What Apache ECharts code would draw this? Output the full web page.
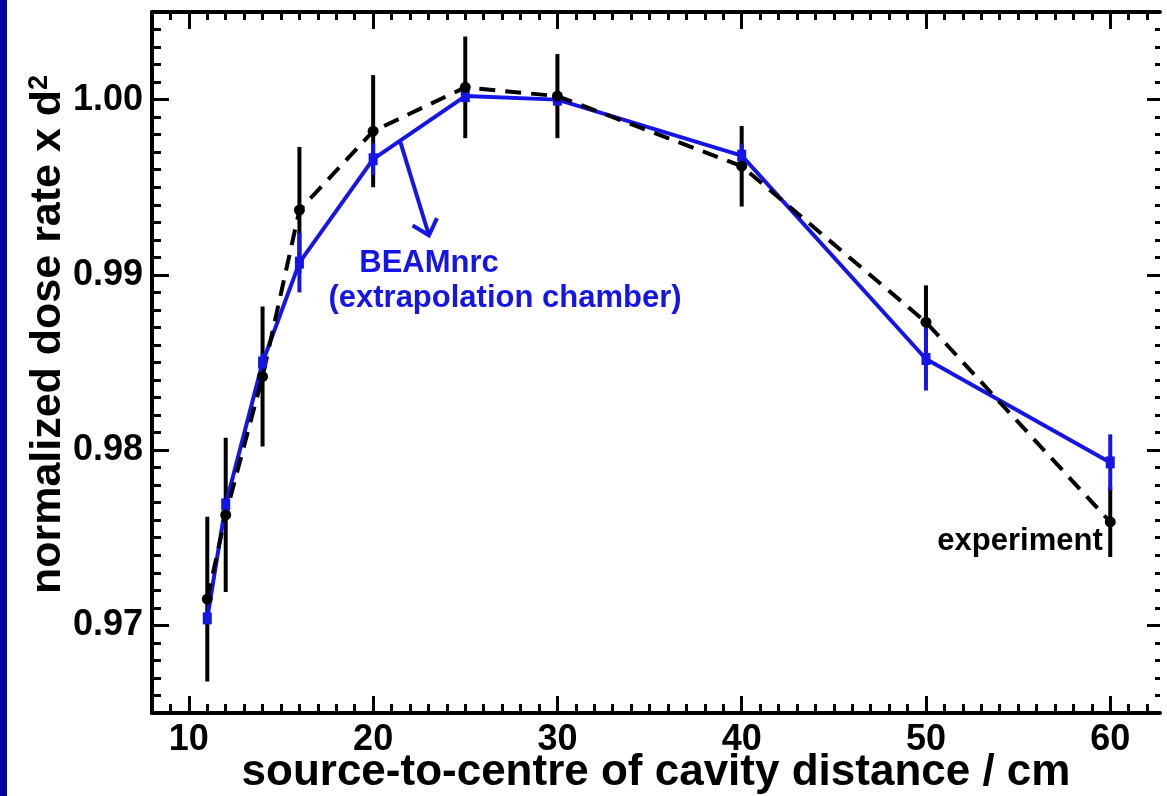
<!DOCTYPE html>
<html>
<head>
<meta charset="utf-8">
<script src="https://cdn.jsdelivr.net/npm/echarts@6/dist/echarts.min.js"></script>
<style>
  html, body { margin: 0; padding: 0; background: #fff; }
  #main { width: 1167px; height: 796px; }
</style>
</head>
<body>
<div id="main"></div>
<script>
// distances (cm) and normalized dose rate x d^2
const distances = [11, 12, 14, 16, 20, 25, 30, 40, 50, 60];
const experiment = [0.9715, 0.9763, 0.9842, 0.9937, 0.9982, 1.0007, 1.0002, 0.9962, 0.9873, 0.9759];
const experimentErr = [0.0047, 0.0044, 0.0040, 0.0036, 0.0032, 0.0029, 0.0024, 0.0023, 0.0021, 0.0020];
const beamnrc = [0.9704, 0.9769, 0.9850, 0.9907, 0.9966, 1.0002, 1.0000, 0.9968, 0.9852, 0.9793];
const beamnrcErr = [0.0003, 0.0003, 0.0005, 0.0017, 0.0009, 0.0003, 0.0003, 0.0007, 0.0018, 0.0016];

const xTickLabels = [10, 20, 30, 40, 50, 60];
const yTickLabels = [0.97, 0.98, 0.99, 1.00];

// annotation arrow (data coords) from the BEAMnrc line down to its label
const arrowFrom = [21.45, 0.99767];
const arrowTo = [23.03, 0.99226];

const X_MIN = 8, X_MAX = 62.7;
const Y_MIN = 0.965, Y_MAX = 1.005;

const FONT = '"Liberation Sans", Arial, Helvetica, sans-serif';
const BLUE = '#1515e8';

const xMinor = [];
for (let v = 8; v <= 62; v++) xMinor.push(v);
const yMinor = [];
for (let i = 965; i <= 1005; i++) yMinor.push(i / 1000);

function xAxisDef(pos, ticks, len, main) {
  return {
    type: 'value', position: pos, min: X_MIN, max: X_MAX,
    splitLine: { show: false },
    axisLine: { show: main, onZero: false, lineStyle: { color: '#000', width: 4 } },
    axisTick: { show: true, inside: true, length: len, customValues: ticks, lineStyle: { color: '#000', width: 3 } },
    axisLabel: { show: false }
  };
}
function yAxisDef(pos, ticks, len, showLine) {
  return {
    type: 'value', position: pos, min: Y_MIN, max: Y_MAX,
    splitLine: { show: false },
    axisLine: { show: showLine, onZero: false, lineStyle: { color: '#000', width: 4 } },
    axisTick: { show: true, inside: true, length: len, customValues: ticks, lineStyle: { color: '#000', width: 3 } },
    axisLabel: { show: false }
  };
}

const xBottom = xAxisDef('bottom', xTickLabels, 17, true);
xBottom.axisLabel = {
  show: true, customValues: xTickLabels, margin: 9,
  color: '#000', fontFamily: FONT, fontWeight: 'bold', fontSize: 36
};
xBottom.name = 'source-to-centre of cavity distance / cm';
xBottom.nameLocation = 'middle';
xBottom.nameGap = 38;
xBottom.nameMoveOverlap = false;
xBottom.nameTextStyle = { color: '#000', fontFamily: FONT, fontWeight: 'bold', fontSize: 44 };

const yLeft = yAxisDef('left', yTickLabels, 17, true);
yLeft.axisLabel = {
  show: true, customValues: yTickLabels, margin: 9,
  color: '#000', fontFamily: FONT, fontWeight: 'bold', fontSize: 36,
  formatter: v => v.toFixed(2)
};
yLeft.name = 'normalized dose rate x d{sup|2}';
yLeft.nameLocation = 'middle';
yLeft.nameGap = 81;
yLeft.nameMoveOverlap = false;
yLeft.nameTextStyle = {
  color: '#000', fontFamily: FONT, fontWeight: 'bold', fontSize: 43,
  padding: [0, 0, 0, 56],
  rich: { sup: { fontFamily: FONT, fontWeight: 'bold', fontSize: 27, color: '#000', verticalAlign: 'bottom', padding: [0, 0, 18, 0] } }
};

function errorBars(values, errs, color) {
  return {
    type: 'custom', silent: true,
    renderItem: (params, api) => {
      const p1 = api.coord([api.value(0), api.value(1)]);
      const p2 = api.coord([api.value(0), api.value(2)]);
      return {
        type: 'line',
        shape: { x1: p1[0], y1: p1[1], x2: p2[0], y2: p2[1] },
        style: { stroke: color, lineWidth: 4 }
      };
    },
    encode: { x: 0, y: [1, 2] },
    data: distances.map((d, i) => [d, values[i] - errs[i], values[i] + errs[i]])
  };
}

const chart = echarts.init(document.getElementById('main'));
chart.setOption({
  animation: false,
  backgroundColor: '#fff',
  grid: { left: 152, right: 7, top: 12, bottom: 83, outerBoundsMode: 'none', containLabel: false },
  xAxis: [
    xBottom,
    xAxisDef('bottom', xMinor, 9, false),
    xAxisDef('top', xTickLabels, 17, true),
    xAxisDef('top', xMinor, 8, false)
  ],
  yAxis: [
    yLeft,
    yAxisDef('left', yMinor, 9, false),
    yAxisDef('right', yTickLabels, 13, false),
    yAxisDef('right', yMinor, 5, false)
  ],
  graphic: [
    { type: 'rect', left: 0, top: 0, shape: { width: 7, height: 796 }, style: { fill: '#0505a5' } },
    { type: 'text', x: 429, y: 263, style: { text: 'BEAMnrc', fill: BLUE, font: 'bold 31px ' + FONT, align: 'center', verticalAlign: 'middle', textAlign: 'center', textVerticalAlign: 'middle' } },
    { type: 'text', x: 505, y: 298, style: { text: '(extrapolation chamber)', fill: BLUE, font: 'bold 31px ' + FONT, align: 'center', verticalAlign: 'middle', textAlign: 'center', textVerticalAlign: 'middle' } },
    { type: 'text', x: 1020, y: 541, style: { text: 'experiment', fill: '#000', font: 'bold 31px ' + FONT, align: 'center', verticalAlign: 'middle', textAlign: 'center', textVerticalAlign: 'middle' } }
  ],
  series: [
    errorBars(experiment, experimentErr, '#000'),
    errorBars(beamnrc, beamnrcErr, BLUE),
    {
      name: 'BEAMnrc', type: 'line',
      data: distances.map((d, i) => [d, beamnrc[i]]),
      symbol: 'rect', symbolSize: [9, 12], showAllSymbol: true,
      lineStyle: { color: BLUE, width: 4 },
      itemStyle: { color: BLUE }
    },
    {
      name: 'experiment', type: 'line',
      data: distances.map((d, i) => [d, experiment[i]]),
      symbol: 'circle', symbolSize: 11, showAllSymbol: true,
      lineStyle: { color: '#000', width: 4, type: [16, 10] },
      itemStyle: { color: '#000' }
    },
    {
      type: 'custom', silent: true,
      renderItem: (params, api) => {
        const a = api.coord([api.value(0), api.value(1)]);
        const b = api.coord([api.value(2), api.value(3)]);
        const ang = Math.atan2(a[1] - b[1], a[0] - b[0]);
        const L = 19, w = 42 * Math.PI / 180;
        const w1 = [b[0] + L * Math.cos(ang + w), b[1] + L * Math.sin(ang + w)];
        const w2 = [b[0] + L * Math.cos(ang - w), b[1] + L * Math.sin(ang - w)];
        const st = { stroke: BLUE, lineWidth: 4, fill: null, lineJoin: 'miter' };
        return {
          type: 'group',
          children: [
            { type: 'line', shape: { x1: a[0], y1: a[1], x2: b[0], y2: b[1] }, style: st },
            { type: 'polyline', shape: { points: [w1, b, w2] }, style: st }
          ]
        };
      },
      encode: { x: [0, 2], y: [1, 3] },
      data: [[arrowFrom[0], arrowFrom[1], arrowTo[0], arrowTo[1]]]
    }
  ]
});
</script>
</body>
</html>
